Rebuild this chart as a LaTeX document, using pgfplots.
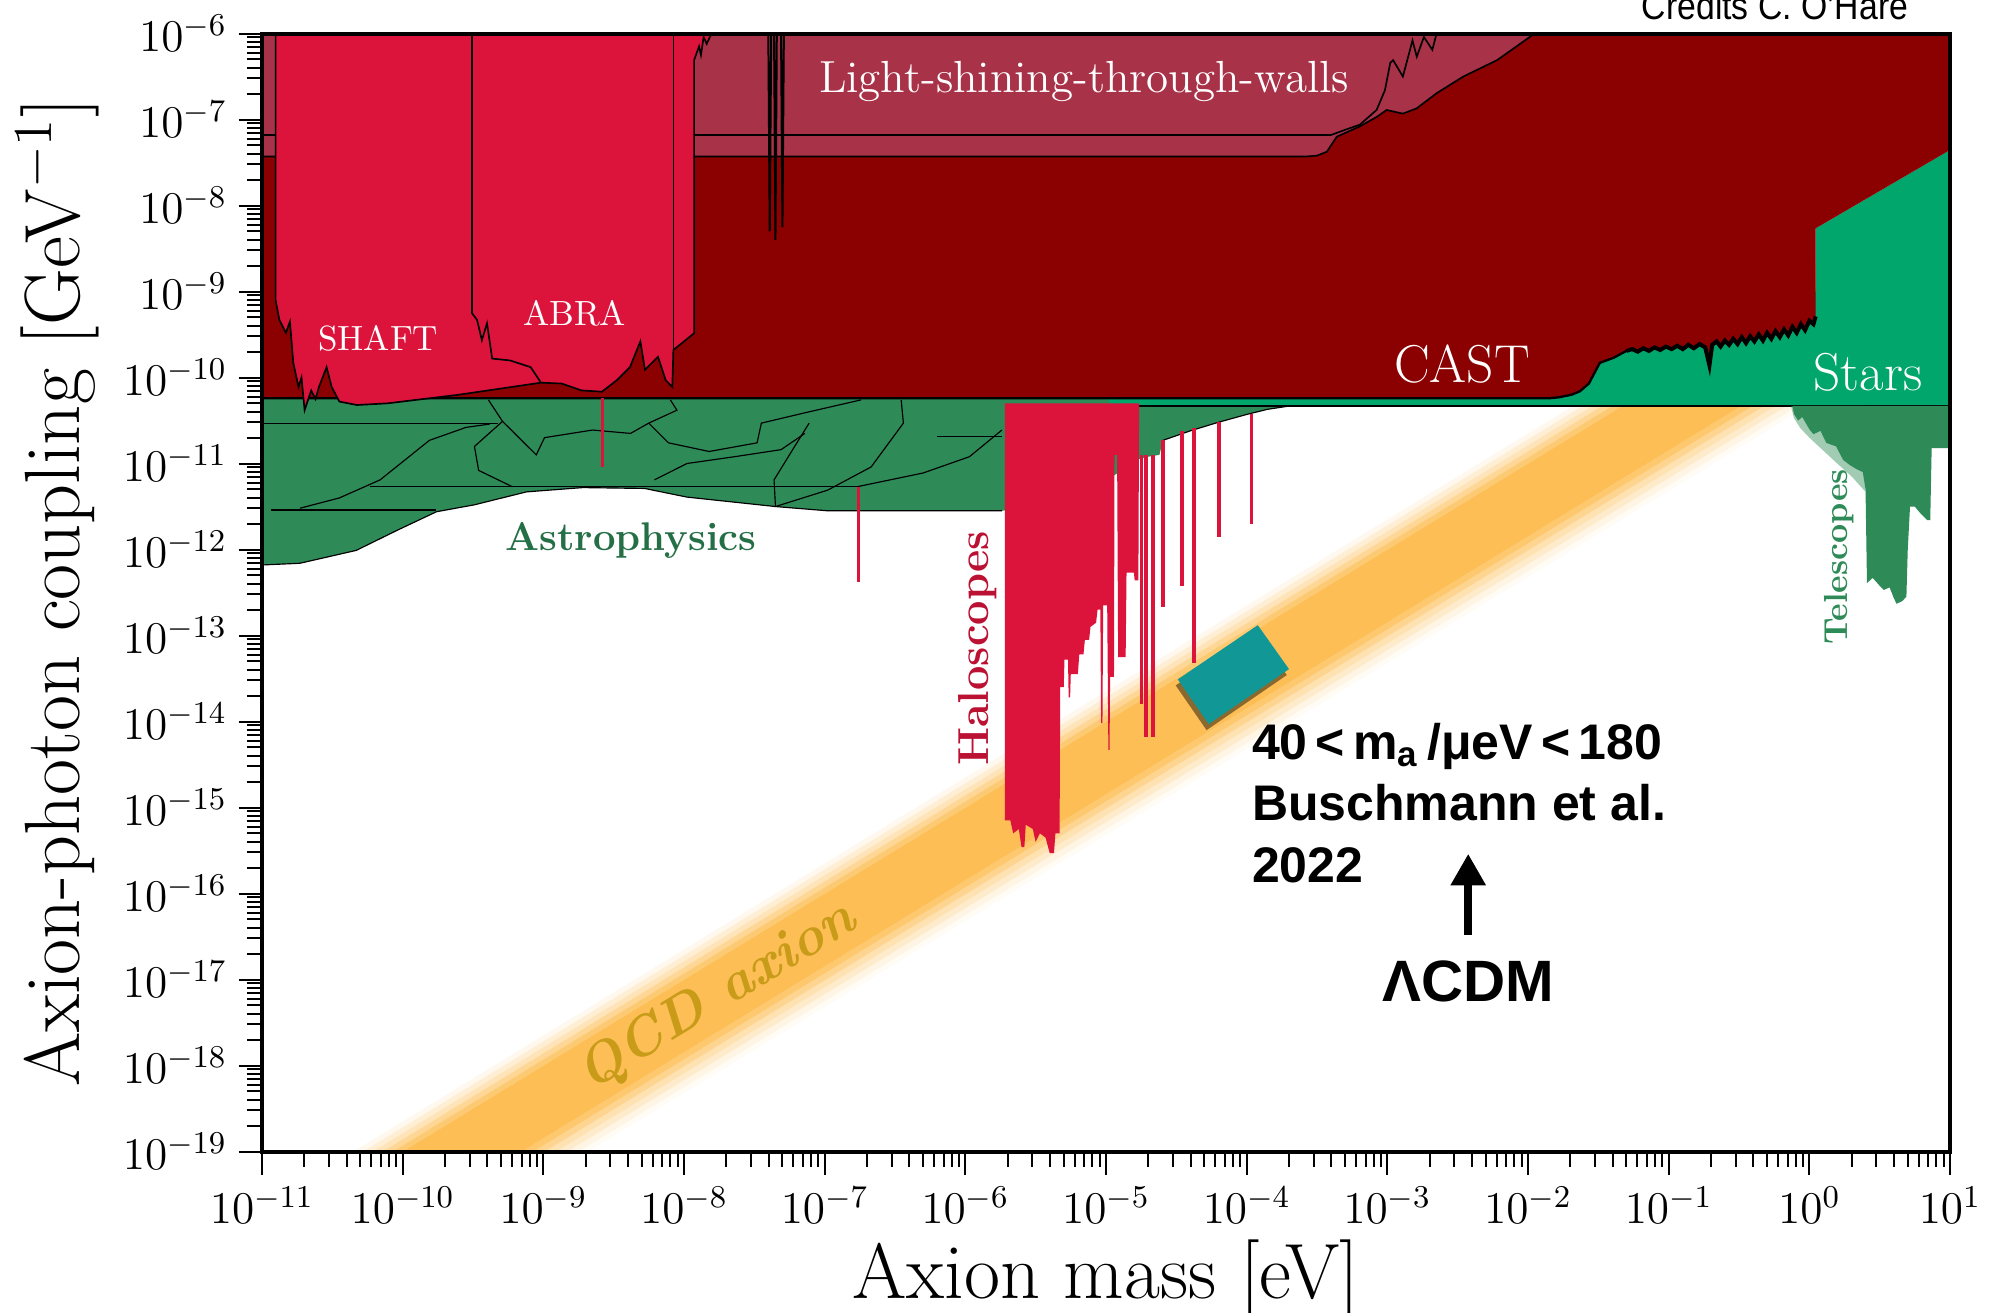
\RequirePackage{fix-cm}
\documentclass[border=0pt]{standalone}
\usepackage{fontspec}
\usepackage{graphicx}
\usepackage{pgfplots}
\pgfplotsset{compat=1.18}
\usetikzlibrary{arrows.meta}
\newfontfamily\arialf{Liberation Sans}
\newcommand{\fs}[2]{\fontsize{#1}{#2}\selectfont}

\definecolor{lswc}{RGB}{168,50,72}
\definecolor{castc}{RGB}{139,0,0}
\definecolor{crim}{RGB}{220,20,60}
\definecolor{astroc}{RGB}{46,139,87}
\definecolor{starc}{RGB}{0,166,107}
\definecolor{bandc}{RGB}{253,190,85}
\definecolor{tealc}{RGB}{17,152,150}
\definecolor{qcdtext}{RGB}{200,155,25}

\begin{document}
\begin{tikzpicture}
\begin{axis}[
  name=ax,
  scale only axis, width=506.4pt, height=335.4pt,
  xmode=log, ymode=log,
  xmin=1e-11, xmax=10, ymin=1e-19, ymax=1e-6,
  xtick={1e-11,1e-10,1e-9,1e-8,1e-7,1e-6,1e-5,1e-4,1e-3,1e-2,1e-1,1,10},
  ytick={1e-19,1e-18,1e-17,1e-16,1e-15,1e-14,1e-13,1e-12,1e-11,1e-10,1e-9,1e-8,1e-7,1e-6},
  tick align=outside, tick pos=left,
  major tick length=7pt, minor tick length=4.5pt,
  every tick/.style={black, line width=0.6pt},
  axis line style={line width=1.2pt},
  axis on top,
  tick label style={font=\fs{13.6pt}{16pt}},
  xlabel={Axion mass [eV]},
  ylabel={Axion-photon coupling [GeV$^{-1}$]},
  every axis x label/.style={at={(axis description cs:0.5,-0.114)}, anchor=center, font=\fs{23.5pt}{27pt}},
  every axis y label/.style={at={(axis description cs:-0.121,0.5)}, rotate=90, anchor=center, font=\fs{23.5pt}{27pt}},
]

% ---- QCD axion band: soft edges built from graded strips ----
\addplot[draw=none, fill=bandc, fill opacity=0.10] coordinates {(1e-11,2.239e-20) (10,2.239e-8) (10,1.905e-8) (1e-11,1.905e-20)};
\addplot[draw=none, fill=bandc, fill opacity=0.25] coordinates {(1e-11,1.905e-20) (10,1.905e-8) (10,1.622e-8) (1e-11,1.622e-20)};
\addplot[draw=none, fill=bandc, fill opacity=0.42] coordinates {(1e-11,1.622e-20) (10,1.622e-8) (10,1.380e-8) (1e-11,1.380e-20)};
\addplot[draw=none, fill=bandc, fill opacity=0.62] coordinates {(1e-11,1.380e-20) (10,1.380e-8) (10,1.175e-8) (1e-11,1.175e-20)};
\addplot[draw=none, fill=bandc, fill opacity=0.82] coordinates {(1e-11,1.175e-20) (10,1.175e-8) (10,1.0e-8) (1e-11,1.0e-20)};
\addplot[draw=none, fill=bandc] coordinates {(1e-11,1.0e-20) (10,1.0e-8) (10,1.413e-9) (1e-11,1.413e-21)};
\addplot[draw=none, fill=bandc, fill opacity=0.85] coordinates {(1e-11,1.413e-21) (10,1.413e-9) (10,1.175e-9) (1e-11,1.175e-21)};
\addplot[draw=none, fill=bandc, fill opacity=0.65] coordinates {(1e-11,1.175e-21) (10,1.175e-9) (10,9.77e-10) (1e-11,9.77e-22)};
\addplot[draw=none, fill=bandc, fill opacity=0.45] coordinates {(1e-11,9.77e-22) (10,9.77e-10) (10,8.13e-10) (1e-11,8.13e-22)};
\addplot[draw=none, fill=bandc, fill opacity=0.30] coordinates {(1e-11,8.13e-22) (10,8.13e-10) (10,6.76e-10) (1e-11,6.76e-22)};
\addplot[draw=none, fill=bandc, fill opacity=0.16] coordinates {(1e-11,6.76e-22) (10,6.76e-10) (10,5.62e-10) (1e-11,5.62e-22)};
\addplot[draw=none, fill=bandc, fill opacity=0.06] coordinates {(1e-11,5.62e-22) (10,5.62e-10) (10,4.79e-10) (1e-11,4.79e-22)};

% ---- Stars (horizontal branch and beyond) ----
\addplot[draw=none, fill=starc] coordinates {(1e-11,4.68e-11) (10,4.68e-11) (10,4.42e-8) (1.11,5.43e-9) (1.11,1e-9) (1e-11,1e-9)};

% ---- Astrophysics ----
\addplot[draw=none, fill=astroc] coordinates {
 (1e-11,5.75e-11) (1e-5,5.75e-11) (1.12e-5,4.68e-11) (2.04e-4,4.68e-11)
 (1.41e-4,4.27e-11) (1e-4,3.72e-11) (6.31e-5,3.02e-11) (3.98e-5,2.40e-11)
 (2.54e-5,1.86e-11) (2.40e-5,1.26e-11) (2.0e-5,1.20e-11) (1.70e-5,1.12e-11)
 (1e-5,6.31e-12) (3.16e-6,3.16e-12) (1.82e-6,2.82e-12) (5.13e-7,2.82e-12)
 (1.05e-7,2.82e-12) (4.47e-8,3.16e-12) (1.05e-8,4.07e-12) (5.25e-9,5.13e-12)
 (1.91e-9,5.25e-12) (7.59e-10,4.68e-12) (3.24e-10,3.31e-12) (1.74e-10,2.75e-12)
 (9.33e-11,1.70e-12) (4.68e-11,9.77e-13) (1.86e-11,6.92e-13) (1e-11,6.61e-13)};
% outlines of the individual astrophysical bounds
\addplot[black, line width=0.35pt] coordinates {(1.82e-6,2.82e-12) (1.05e-7,2.82e-12) (4.47e-8,3.16e-12) (1.05e-8,4.07e-12) (5.25e-9,5.13e-12) (1.91e-9,5.25e-12) (7.59e-10,4.68e-12) (3.24e-10,3.31e-12) (1.74e-10,2.75e-12) (9.33e-11,1.70e-12) (4.68e-11,9.77e-13) (1.86e-11,6.92e-13) (1e-11,6.61e-13)};
\addplot[black, line width=0.35pt] coordinates {(1e-11,2.95e-11) (4.79e-10,2.95e-11)};
\addplot[black, line width=0.35pt] coordinates {(5.89e-11,5.37e-12) (1.70e-7,5.37e-12)};
\addplot[black, line width=0.35pt] coordinates {(1.15e-11,2.88e-12) (1.74e-10,2.88e-12)};
\addplot[black, line width=0.35pt] coordinates {(1.86e-11,3.02e-12) (3.55e-11,3.98e-12) (6.92e-11,6.46e-12) (1.55e-10,1.86e-11) (2.82e-10,2.63e-11) (4.17e-10,2.88e-11)};
\addplot[black, line width=0.35pt] coordinates {(4.07e-10,5.50e-11) (5.13e-10,3.09e-11) (3.24e-10,1.58e-11) (3.47e-10,8.32e-12) (6.03e-10,5.37e-12)};
\addplot[black, line width=0.35pt] coordinates {(5.13e-10,3.09e-11) (8.91e-10,1.26e-11) (1.02e-9,2.0e-11) (2.24e-9,2.45e-11) (4.17e-9,2.24e-11) (5.62e-9,2.95e-11) (8.91e-9,4.17e-11) (8.0e-9,5.5e-11)};
\addplot[black, line width=0.35pt] coordinates {(5.62e-9,2.95e-11) (7.76e-9,1.74e-11) (1.51e-8,1.38e-11) (3.31e-8,1.74e-11) (3.55e-8,2.95e-11) (7.24e-8,3.89e-11) (1.82e-7,5.50e-11)};
\addplot[black, line width=0.35pt] coordinates {(6.17e-9,6.46e-12) (1.05e-8,1e-11) (2.29e-8,1.20e-11) (4.90e-8,1.45e-11) (7.24e-8,2.24e-11)};
\addplot[black, line width=0.35pt] coordinates {(4.47e-8,3.16e-12) (4.37e-8,6.46e-12) (6.0e-8,1.5e-11) (7.76e-8,2.95e-11)};
\addplot[black, line width=0.35pt] coordinates {(4.47e-8,3.16e-12) (1.05e-7,4.90e-12) (2.14e-7,9.12e-12) (3.63e-7,2.95e-11) (3.5e-7,5.5e-11)};
\addplot[black, line width=0.35pt] coordinates {(1.70e-7,5.37e-12) (5.01e-7,7.76e-12) (1.07e-6,1.20e-11) (1.82e-6,2.45e-11)};
\addplot[black, line width=0.35pt] coordinates {(6.31e-7,2.04e-11) (1.82e-6,2.04e-11)};
\addplot[black, line width=0.35pt] coordinates {(2.04e-4,4.68e-11) (1.41e-4,4.27e-11) (1e-4,3.72e-11) (6.31e-5,3.02e-11) (3.98e-5,2.40e-11) (2.54e-5,1.86e-11)};

% ---- CAST helioscope ----
\addplot[draw=none, fill=castc] coordinates {
 (1e-11,1e-6) (10,1e-6) (10,4.42e-8) (1.11,5.43e-9) (1.11,5.13e-10)
 (1.07,4.17e-10) (1.0,4.57e-10) (0.933,3.55e-10) (0.871,4.17e-10) (0.813,3.31e-10)
 (0.759,3.89e-10) (0.708,3.09e-10) (0.661,3.63e-10) (0.617,2.95e-10) (0.575,3.47e-10)
 (0.537,2.82e-10) (0.501,3.31e-10) (0.468,2.69e-10) (0.437,3.16e-10) (0.407,2.63e-10)
 (0.380,3.02e-10) (0.355,2.51e-10) (0.331,2.95e-10) (0.309,2.45e-10) (0.288,2.82e-10)
 (0.269,2.40e-10) (0.251,2.69e-10) (0.234,2.29e-10) (0.219,2.63e-10) (0.204,2.40e-10)
 (0.195,1.38e-10) (0.182,2.24e-10) (0.166,2.45e-10) (0.151,2.19e-10) (0.138,2.40e-10)
 (0.126,2.14e-10) (0.115,2.34e-10) (0.105,2.14e-10) (0.0955,2.29e-10) (0.0871,2.09e-10)
 (0.0794,2.24e-10) (0.0724,2.04e-10) (0.0661,2.19e-10) (0.0603,2.0e-10) (0.0550,2.14e-10)
 (0.0501,2.04e-10) (0.0407,1.70e-10) (0.0324,1.48e-10) (0.0271,8.51e-11) (0.0234,6.92e-11)
 (0.0204,6.31e-11) (0.0166,5.89e-11) (0.0143,5.75e-11) (1e-11,5.75e-11)};
\addplot[black, line width=1.2pt] coordinates {
 (1.11,5.13e-10)
 (1.07,4.17e-10) (1.0,4.57e-10) (0.933,3.55e-10) (0.871,4.17e-10) (0.813,3.31e-10)
 (0.759,3.89e-10) (0.708,3.09e-10) (0.661,3.63e-10) (0.617,2.95e-10) (0.575,3.47e-10)
 (0.537,2.82e-10) (0.501,3.31e-10) (0.468,2.69e-10) (0.437,3.16e-10) (0.407,2.63e-10)
 (0.380,3.02e-10) (0.355,2.51e-10) (0.331,2.95e-10) (0.309,2.45e-10) (0.288,2.82e-10)
 (0.269,2.40e-10) (0.251,2.69e-10) (0.234,2.29e-10) (0.219,2.63e-10) (0.204,2.40e-10)
 (0.195,1.38e-10) (0.182,2.24e-10) (0.166,2.45e-10) (0.151,2.19e-10) (0.138,2.40e-10)
 (0.126,2.14e-10) (0.115,2.34e-10) (0.105,2.14e-10) (0.0955,2.29e-10) (0.0871,2.09e-10)
 (0.0794,2.24e-10) (0.0724,2.04e-10) (0.0661,2.19e-10) (0.0603,2.0e-10) (0.0550,2.14e-10)
 (0.0501,2.04e-10)};
\addplot[black, line width=0.7pt] coordinates {
 (0.0501,2.04e-10) (0.0407,1.70e-10) (0.0324,1.48e-10)
 (0.0271,8.51e-11) (0.0234,6.92e-11) (0.0204,6.31e-11) (0.0166,5.89e-11) (0.0143,5.75e-11) (1e-11,5.75e-11)};
\addplot[black, line width=0.8pt] coordinates {(1e-5,4.68e-11) (10,4.68e-11)};

% ---- Light-shining-through-walls ----
\addplot[draw=none, fill=lswc] coordinates {
 (1e-11,1e-6) (1e-11,3.72e-8) (2.67e-4,3.72e-8) (3.16e-4,3.80e-8) (3.72e-4,4.22e-8)
 (4.37e-4,6.31e-8) (6.38e-4,8.32e-8) (8.39e-4,1.07e-7) (9.89e-4,1.29e-7) (1.29e-3,1.17e-7)
 (1.62e-3,1.35e-7) (2.24e-3,2.02e-7) (3.47e-3,3.16e-7) (6.03e-3,4.90e-7) (1.03e-2,9.12e-7) (1.12e-2,1e-6)};
\addplot[black, line width=0.5pt] coordinates {
 (1e-11,3.72e-8) (2.67e-4,3.72e-8) (3.16e-4,3.80e-8) (3.72e-4,4.22e-8)
 (4.37e-4,6.31e-8) (6.38e-4,8.32e-8) (8.39e-4,1.07e-7) (9.89e-4,1.29e-7) (1.29e-3,1.17e-7)
 (1.62e-3,1.35e-7) (2.24e-3,2.02e-7) (3.47e-3,3.16e-7) (6.03e-3,4.90e-7) (1.03e-2,9.12e-7) (1.12e-2,1e-6)};
\addplot[black, line width=0.5pt] coordinates {
 (1e-11,6.61e-8) (3.98e-4,6.61e-8) (5.01e-4,7.59e-8) (6.38e-4,8.71e-8) (8.39e-4,1.29e-7)
 (9.62e-4,2.19e-7) (1.05e-3,4.57e-7) (1.10e-3,4.90e-7) (1.29e-3,3.16e-7) (1.45e-3,6.46e-7)
 (1.51e-3,8.32e-7) (1.62e-3,5.37e-7) (1.82e-3,9.12e-7) (2.09e-3,6.46e-7) (2.24e-3,1e-6)};
% narrow resonant dips
\addplot[black, line width=0.6pt] coordinates {(3.98e-8,1e-6) (4.07e-8,5.01e-9) (4.17e-8,1e-6)};
\addplot[black, line width=0.6pt] coordinates {(4.37e-8,1e-6) (4.47e-8,3.98e-9) (4.57e-8,1e-6)};
\addplot[black, line width=0.6pt] coordinates {(4.90e-8,1e-6) (5.01e-8,5.62e-9) (5.13e-8,1e-6)};

% ---- SHAFT and ABRA ----
\addplot[draw=none, fill=crim] coordinates {
 (1.25e-11,1e-6) (1.25e-11,7.94e-10) (1.33e-11,4.68e-10) (1.48e-11,3.31e-10) (1.58e-11,4.47e-10)
 (1.67e-11,1.48e-10) (1.82e-11,7.76e-11) (1.91e-11,1e-10) (2.01e-11,4.17e-11) (2.24e-11,7.08e-11)
 (2.40e-11,5.62e-11) (2.54e-11,7.76e-11) (2.88e-11,1.32e-10) (3.13e-11,7.76e-11) (3.55e-11,5.25e-11)
 (4.73e-11,4.79e-11) (7.83e-11,5.01e-11) (2.51e-10,6.31e-11) (9.62e-10,8.71e-11) (1.35e-9,8.51e-11)
 (1.87e-9,7.08e-11) (2.61e-9,6.84e-11) (3.34e-9,9.33e-11) (4.13e-9,1.32e-10) (4.90e-9,2.63e-10)
 (5.28e-9,1.23e-10) (6.53e-9,1.74e-10) (7.41e-9,9.33e-11) (8.26e-9,7.76e-11) (8.41e-9,2.09e-10)
 (1.18e-8,3.27e-10) (1.18e-8,4.90e-7) (1.28e-8,7.08e-7) (1.32e-8,5.62e-7) (1.38e-8,9.12e-7)
 (1.45e-8,7.59e-7) (1.57e-8,1e-6)};
\addplot[black, line width=0.5pt] coordinates {
 (1.25e-11,1e-6) (1.25e-11,7.94e-10) (1.33e-11,4.68e-10) (1.48e-11,3.31e-10) (1.58e-11,4.47e-10)
 (1.67e-11,1.48e-10) (1.82e-11,7.76e-11) (1.91e-11,1e-10) (2.01e-11,4.17e-11) (2.24e-11,7.08e-11)
 (2.40e-11,5.62e-11) (2.54e-11,7.76e-11) (2.88e-11,1.32e-10) (3.13e-11,7.76e-11) (3.55e-11,5.25e-11)
 (4.73e-11,4.79e-11) (7.83e-11,5.01e-11) (2.51e-10,6.31e-11) (9.62e-10,8.71e-11) (1.35e-9,8.51e-11)
 (1.87e-9,7.08e-11) (2.61e-9,6.84e-11) (3.34e-9,9.33e-11) (4.13e-9,1.32e-10) (4.90e-9,2.63e-10)
 (5.28e-9,1.23e-10) (6.53e-9,1.74e-10) (7.41e-9,9.33e-11) (8.26e-9,7.76e-11) (8.41e-9,2.09e-10)
 (1.18e-8,3.27e-10) (1.18e-8,4.90e-7) (1.28e-8,7.08e-7) (1.32e-8,5.62e-7) (1.38e-8,9.12e-7)
 (1.45e-8,7.59e-7) (1.57e-8,1e-6)};
\addplot[black, line width=0.5pt] coordinates {
 (3.11e-10,1e-6) (3.11e-10,5.62e-10) (3.38e-10,4.68e-10) (3.66e-10,2.72e-10) (3.98e-10,4.27e-10)
 (4.33e-10,1.66e-10) (5.79e-10,1.58e-10) (8.13e-10,1.32e-10) (9.62e-10,8.71e-11)};
\addplot[black, line width=0.5pt] coordinates {(8.41e-9,1e-6) (8.41e-9,2.09e-10)};

% ---- Haloscopes ----
\addplot[draw=none, fill=crim] coordinates {
 (1.91e-6,5.01e-11) (1.91e-6,7.08e-16) (2.09e-6,7.08e-16) (2.19e-6,5.01e-16) (2.40e-6,5.62e-16)
 (2.51e-6,3.47e-16) (2.63e-6,3.47e-16) (2.69e-6,6.31e-16) (3.02e-6,5.62e-16) (3.16e-6,3.98e-16)
 (3.39e-6,5.01e-16) (3.72e-6,4.47e-16) (3.98e-6,2.95e-16) (4.27e-6,2.95e-16) (4.37e-6,5.01e-16)
 (4.68e-6,5.01e-16) (4.73e-6,2.51e-14) (5.01e-6,2.51e-14) (5.07e-6,5.25e-14) (5.37e-6,5.25e-14)
 (5.43e-6,1.91e-14) (5.56e-6,1.91e-14) (5.62e-6,3.55e-14) (6.31e-6,3.55e-14) (6.46e-6,6.03e-14)
 (6.92e-6,6.03e-14) (7.08e-6,8.91e-14) (7.59e-6,8.91e-14) (7.76e-6,1.26e-13) (8.51e-6,1.41e-13)
 (8.71e-6,2.0e-13) (9.12e-6,2.0e-13) (9.23e-6,9.55e-15) (9.44e-6,9.55e-15) (9.55e-6,2.24e-13)
 (1.02e-5,2.24e-13) (1.04e-5,4.68e-15) (1.06e-5,4.68e-15) (1.07e-5,3.31e-14) (1.14e-5,3.31e-14)
 (1.15e-5,1.26e-11) (1.20e-5,1.26e-11) (1.22e-5,5.62e-14) (1.38e-5,5.62e-14) (1.40e-5,5.37e-13)
 (1.58e-5,5.37e-13) (1.60e-5,4.37e-13) (1.70e-5,4.37e-13) (1.72e-5,5.01e-11)};
\addplot[crim, line width=1.1pt] coordinates {(1.79e-5,1.26e-11) (1.79e-5,1.62e-14)};
\addplot[crim, line width=1.1pt] coordinates {(1.92e-5,1.26e-11) (1.92e-5,6.61e-15)};
\addplot[crim, line width=1.1pt] coordinates {(2.16e-5,1.26e-11) (2.16e-5,6.61e-15)};
\addplot[crim, line width=1.1pt] coordinates {(2.54e-5,1.86e-11) (2.54e-5,2.16e-13)};
\addplot[crim, line width=1.4pt] coordinates {(3.47e-5,2.40e-11) (3.47e-5,3.72e-13)};
\addplot[crim, line width=1.1pt] coordinates {(4.22e-5,2.6e-11) (4.22e-5,4.79e-14)};
\addplot[crim, line width=1.1pt] coordinates {(6.38e-5,3.0e-11) (6.38e-5,1.41e-12)};
\addplot[crim, line width=1.1pt] coordinates {(1.08e-4,3.8e-11) (1.08e-4,2.0e-12)};
\addplot[crim, line width=1.1pt] coordinates {(2.63e-9,5.75e-11) (2.63e-9,9.12e-12)};
\addplot[crim, line width=1.1pt] coordinates {(1.74e-7,5.37e-12) (1.74e-7,4.17e-13)};

% ---- Telescopes ----
\addplot[draw=none, fill=astroc, fill opacity=0.45] coordinates {
 (0.741,4.68e-11) (0.776,3.4e-11) (0.86,2.6e-11) (1.0,2.0e-11) (1.26,1.41e-11)
 (1.58,1.0e-11) (2.0,7.08e-12) (2.51,4.68e-12) (2.51,4.68e-11)};
\addplot[draw=none, fill=astroc] coordinates {
 (0.759,4.68e-11) (0.776,3.80e-11) (0.832,3.16e-11) (0.891,3.47e-11) (1.0,2.51e-11)
 (1.07,2.19e-11) (1.20,2.40e-11) (1.32,1.74e-11) (1.55,1.58e-11) (1.74,1.10e-11)
 (1.95,9.55e-12) (2.14,8.71e-12) (2.40,7.94e-12) (2.51,5.01e-12) (2.57,4.07e-13)
 (2.82,4.68e-13) (3.16,3.80e-13) (3.39,3.39e-13) (3.72,3.63e-13) (3.98,2.75e-13)
 (4.17,2.34e-13) (4.57,2.51e-13) (4.90,2.82e-13) (5.01,1e-12) (5.20,3.16e-12)
 (5.62,3.16e-12) (6.17,2.63e-12) (6.92,2.19e-12) (7.24,2.19e-12) (7.41,1.51e-11)
 (10,1.51e-11) (10,4.68e-11)};

% ---- Buschmann et al. 2022 prediction ----
\addplot[draw=none, fill=black, fill opacity=0.45] coordinates {(3.13e-5,2.63e-14) (5.19e-5,7.94e-15) (1.93e-4,3.47e-14) (1.16e-4,1.12e-13)};
\addplot[draw=none, fill=tealc] coordinates {(3.24e-5,3.09e-14) (5.37e-5,9.33e-15) (2.0e-4,4.07e-14) (1.2e-4,1.32e-13)};

% ---- labels ----
\node[anchor=base, text=white, font=\fs{13.5pt}{16pt}] at (axis cs:6.98e-6,2.07e-7) {Light-shining-through-walls};
\node[anchor=base, text=white, font=\fs{10.5pt}{12pt}] at (axis cs:6.7e-11,2.04e-10) {SHAFT};
\node[anchor=base, text=white, font=\fs{10.5pt}{12pt}] at (axis cs:1.67e-9,4.05e-10) {ABRA};
\node[anchor=base, text=white, font=\fs{16pt}{18pt}] at (axis cs:3.39e-3,8.66e-11) {CAST};
\node[anchor=base, text=white, font=\fs{16pt}{18pt}] at (axis cs:2.61,7.08e-11) {Stars};
\node[anchor=base, text=astroc!80!black, font=\fs{12pt}{14pt}\bfseries] at (axis cs:4.2e-9,9.77e-13) {Astrophysics};
\node[rotate=90, text=crim!85!black, font=\fs{13pt}{15pt}\bfseries] at (axis cs:1.23e-6,7.08e-14) {Haloscopes};
\node[rotate=90, text=astroc, font=\fs{10pt}{12pt}\bfseries] at (axis cs:1.64,8.2e-13) {Telescopes};
\node[rotate=31.4, text=qcdtext, font=\fs{16.5pt}{19pt}\bfseries\itshape] at (axis cs:1.74e-8,6.24e-18) {QCD axion};

\node[anchor=base west, inner sep=0pt, font=\arialf\bfseries\fs{15pt}{18pt}] at (axis cs:1.08e-4,3.63e-15) {40\,<\,m\textsubscript{a}\,/μeV\,<\,180};
\node[anchor=base west, inner sep=0pt, font=\arialf\bfseries\fs{15pt}{18pt}] at (axis cs:1.08e-4,7.08e-16) {Buschmann et al.};
\node[anchor=base west, inner sep=0pt, font=\arialf\bfseries\fs{15pt}{18pt}] at (axis cs:1.08e-4,1.36e-16) {2022};
\draw[line width=2.4pt, -{Triangle[length=9.5pt,width=10pt]}] (axis cs:3.76e-3,3.3e-17) -- (axis cs:3.76e-3,2.9e-16);
\node[anchor=base, font=\arialf\bfseries\fs{17.5pt}{20pt}] at (axis cs:3.76e-3,5.62e-18) {ΛCDM};
\end{axis}
% credit line above the frame
\node[anchor=base, inner sep=0pt, font=\arialf\fs{11.5pt}{14pt}] at ([xshift=453.9pt,yshift=4.3pt]ax.north west) {\scalebox{0.88}[1]{Credits C. O’Hare}};
\pgfresetboundingbox
\path ([xshift=-78.6pt,yshift=-48.45pt]ax.south west) rectangle ([xshift=15.6pt,yshift=10.05pt]ax.north east);
\end{tikzpicture}
\end{document}
